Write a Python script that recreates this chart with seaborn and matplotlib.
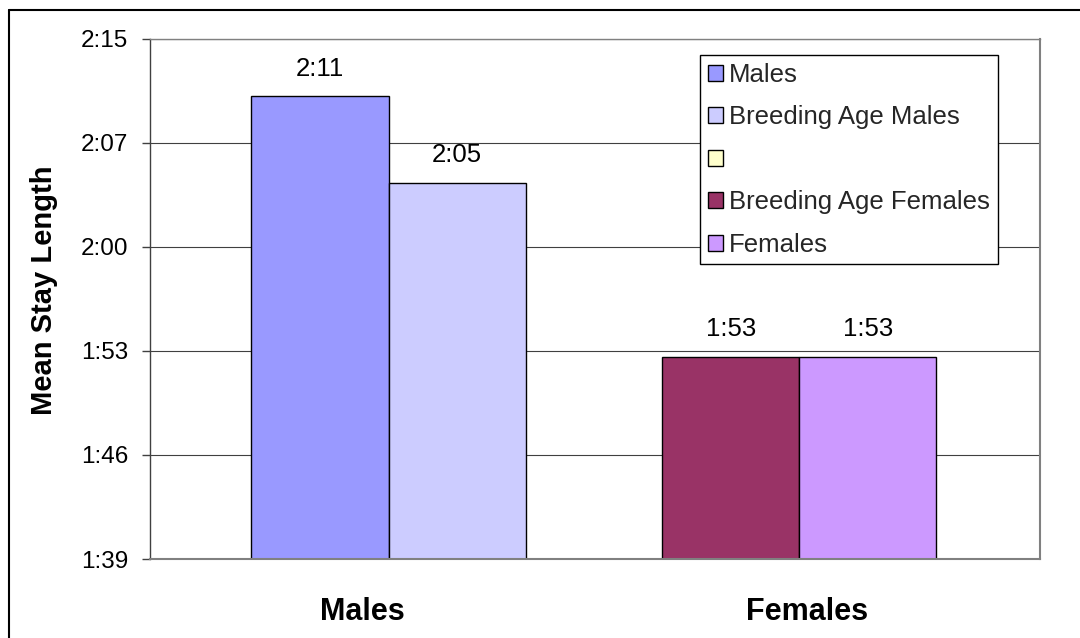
import math
import matplotlib
matplotlib.use("Agg")
import matplotlib.pyplot as plt
from matplotlib.lines import Line2D
from matplotlib.patches import Patch
from matplotlib.ticker import FixedLocator, FuncFormatter
from matplotlib.transforms import ScaledTranslation
import pandas as pd
import seaborn as sns

# ---- data -------------------------------------------------------------
categories = ["Males", "Females"]
series_names = ["Males", "Breeding Age Males", "", "Breeding Age Females", "Females"]
series_colors = ["#9999FF", "#CCCCFF", "#FFFFCC", "#993366", "#CC99FF"]
# mean stay length in minutes, per bar
bar_series = ["Males", "Breeding Age Males", "Breeding Age Females", "Females"]
bar_category = ["Males", "Males", "Females", "Females"]
bar_minutes = [131, 125, 113, 113]
y_min_minutes = 99      # 1:39
y_max_minutes = 135     # 2:15
y_tick_count = 6

# ---- layout -----------------------------------------------------------
# offset of each bar centre from its category centre (category units)
bar_offsets = [-0.118, 0.190, -0.195, 0.113]

def hm(minutes):
    m = int(math.floor(minutes + 1e-6))
    return f"{m // 60}:{m % 60:02d}"

df = pd.DataFrame({
    "series": bar_series,
    "category": bar_category,
    "minutes": bar_minutes,
})
df["pos"] = [categories.index(c) + 0.5 + off for c, off in zip(df["category"], bar_offsets)]

sns.set_theme(style="white")
plt.rcParams["font.family"] = ["Liberation Sans", "DejaVu Sans"]

W, H = 1080, 638
fig = plt.figure(figsize=(W / 100, H / 100), dpi=100)
fig.patch.set_facecolor("white")
ax = fig.add_axes([150 / W, 1 - 559 / H, 890 / W, 520.5 / H])

palette = dict(zip(series_names, series_colors))
sns.barplot(
    data=df, x="pos", y="minutes", hue="series",
    hue_order=[s for s in series_names if s in bar_series],
    palette=palette, saturation=1, native_scale=True, width=1.0, dodge=False,
    errorbar=None, edgecolor="black", linewidth=1.0, legend=False, ax=ax,
)

ax.set_xlim(0, len(categories))
ax.set_ylim(y_min_minutes, y_max_minutes)
step = (y_max_minutes - y_min_minutes) / (y_tick_count - 1)
yticks = [y_min_minutes + i * step for i in range(y_tick_count)]
ax.yaxis.set_major_locator(FixedLocator(yticks))
ax.yaxis.set_major_formatter(FuncFormatter(lambda v, p: hm(v)))
ax.set_xticks([i + 0.5 for i in range(len(categories))])
ax.set_xticklabels(categories, fontsize=22, fontweight="bold")
ax.set_xlabel("")
ax.set_ylabel("")

ax.tick_params(axis="x", length=0, pad=27, colors="black")
ax.tick_params(axis="y", length=5.8, width=1.0, color="#404040", pad=10,
               labelsize=17.5, labelcolor="black", left=True)
shift = ScaledTranslation(-10 / 100, 0, fig.dpi_scale_trans)
for lbl in ax.get_xticklabels():
    lbl.set_transform(lbl.get_transform() + shift)

ax.set_axisbelow(True)
ax.yaxis.grid(True, color="#404040", linewidth=0.8)
ax.xaxis.grid(False)
for side in ["top", "right", "bottom"]:
    ax.spines[side].set_visible(True)
    ax.spines[side].set_color("#808080")
    ax.spines[side].set_linewidth(1.5)
ax.spines["top"].set_linewidth(1.0)
ax.spines["left"].set_color("#404040")
ax.spines["left"].set_linewidth(1.0)

# value labels above the bars
for x, v in zip(df["pos"], df["minutes"]):
    ax.annotate(hm(v), xy=(x, v), xytext=(0, 20), textcoords="offset points",
                ha="center", va="center", fontsize=18.5, color="black")

fig.text(44 / W, 1 - 290 / H, "Mean Stay Length", rotation=90,
         ha="center", va="center", fontsize=21, fontweight="bold", color="black")

handles = [Patch(facecolor=c, edgecolor="black", linewidth=1.0) for c in series_colors]
leg = ax.legend(
    handles, series_names, loc="upper left",
    bbox_to_anchor=(700 / W, 1 - 55 / H), bbox_transform=fig.transFigure,
    borderaxespad=0, fontsize=18.5, frameon=True, fancybox=False,
    edgecolor="black", framealpha=1, borderpad=0.3, labelspacing=0.72,
    handlelength=0.58, handleheight=0.58, handletextpad=0.25,
)
leg.get_frame().set_linewidth(1.0)

# chart-area border (left and top edges)
fig.add_artist(Line2D([9 / W, 9 / W], [0, 1 - 10 / H], transform=fig.transFigure,
                      color="black", linewidth=1.5))
fig.add_artist(Line2D([9 / W, 1], [1 - 10 / H, 1 - 10 / H], transform=fig.transFigure,
                      color="black", linewidth=1.5))

fig.savefig("out.png", dpi=100, facecolor="white")
